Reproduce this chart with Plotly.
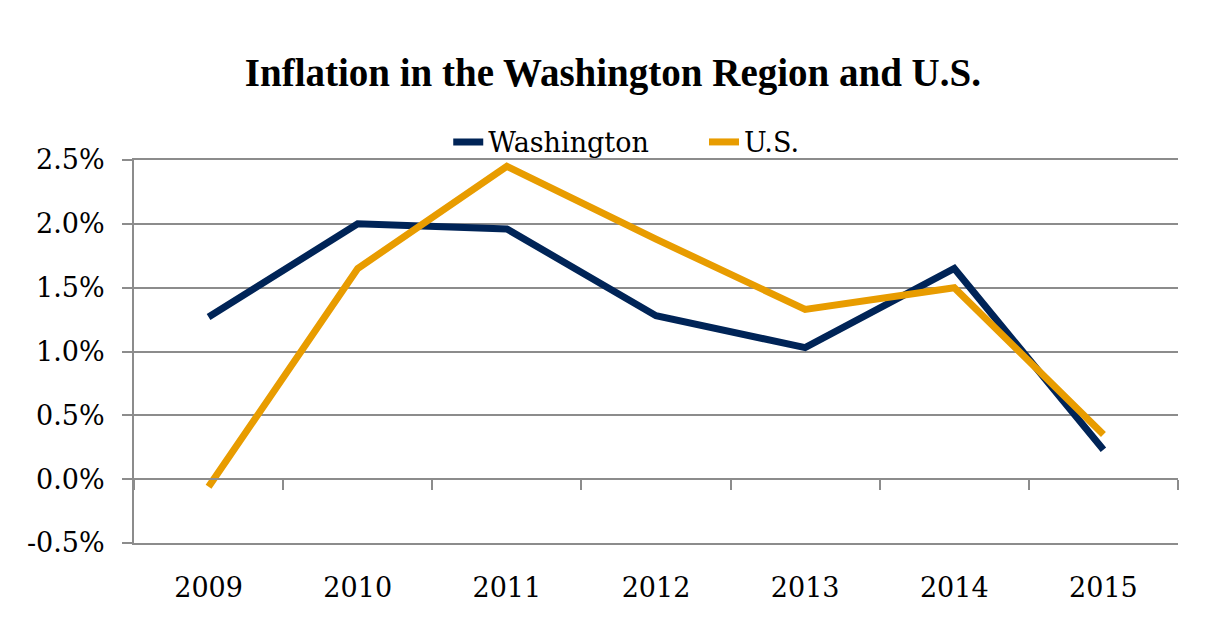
import plotly.graph_objects as go

years = ["2009", "2010", "2011", "2012", "2013", "2014", "2015"]
washington = [1.27, 2.00, 1.96, 1.28, 1.03, 1.65, 0.23]
us = [-0.06, 1.65, 2.45, 1.88, 1.33, 1.50, 0.35]
y_ticks = [-0.5, 0.0, 0.5, 1.0, 1.5, 2.0, 2.5]

idx = list(range(len(years)))
boundaries = [i - 0.5 for i in range(len(years) + 1)]
gray = "#8c8c8c"
font_fam = "DejaVu Serif"

fig = go.Figure()
fig.add_trace(go.Scatter(x=idx, y=washington, mode="lines", name="Washington",
                         line=dict(color="#002457", width=7), legend="legend"))
fig.add_trace(go.Scatter(x=idx, y=us, mode="lines", name="U.S.", xaxis="x2",
                         line=dict(color="#e89c00", width=7), legend="legend2"))

ymin, ymax = y_ticks[0], y_ticks[-1]
leg_common = dict(orientation="h", xanchor="left", y=1.046, yanchor="middle",
                  font=dict(family=font_fam, size=27), bgcolor="rgba(0,0,0,0)",
                  itemwidth=30)
fig.update_layout(
    width=1227, height=626,
    margin=dict(l=126, r=57, t=152, b=91),
    paper_bgcolor="white", plot_bgcolor="white",
    font=dict(family=font_fam, size=27, color="black"),
    title=dict(text="<b>Inflation in the Washington Region and U.S.</b>",
               x=0.493, xanchor="center", y=0.897, yanchor="middle",
               font=dict(family="Liberation Serif", size=39, color="black")),
    showlegend=True,
    legend=dict(x=0.301, **leg_common),
    legend2=dict(x=0.546, **leg_common),
    xaxis=dict(range=[-0.5, len(years) - 0.5], tickmode="array", tickvals=idx, ticktext=years,
               showgrid=False, zeroline=False, showline=True, mirror=True,
               linecolor=gray, linewidth=2, ticks="",
               ticklabelstandoff=20),
    xaxis2=dict(overlaying="x", anchor="free", position=(0 - ymin) / (ymax - ymin),
                range=[-0.5, len(years) - 0.5], tickmode="array", tickvals=boundaries,
                showticklabels=False, showgrid=False, zeroline=False,
                showline=True, linecolor=gray, linewidth=2,
                ticks="outside", ticklen=10, tickwidth=2, tickcolor=gray, side="bottom"),
    yaxis=dict(range=[ymin, ymax], tickmode="array", tickvals=y_ticks,
               ticktext=[f"{v:.1f}%" for v in y_ticks],
               showgrid=True, gridcolor=gray, gridwidth=2, zeroline=False,
               showline=True, linecolor=gray, linewidth=2,
               ticks="outside", ticklen=10, tickwidth=2, tickcolor=gray,
               ticklabelstandoff=12),
)
fig.write_html("out.html")
